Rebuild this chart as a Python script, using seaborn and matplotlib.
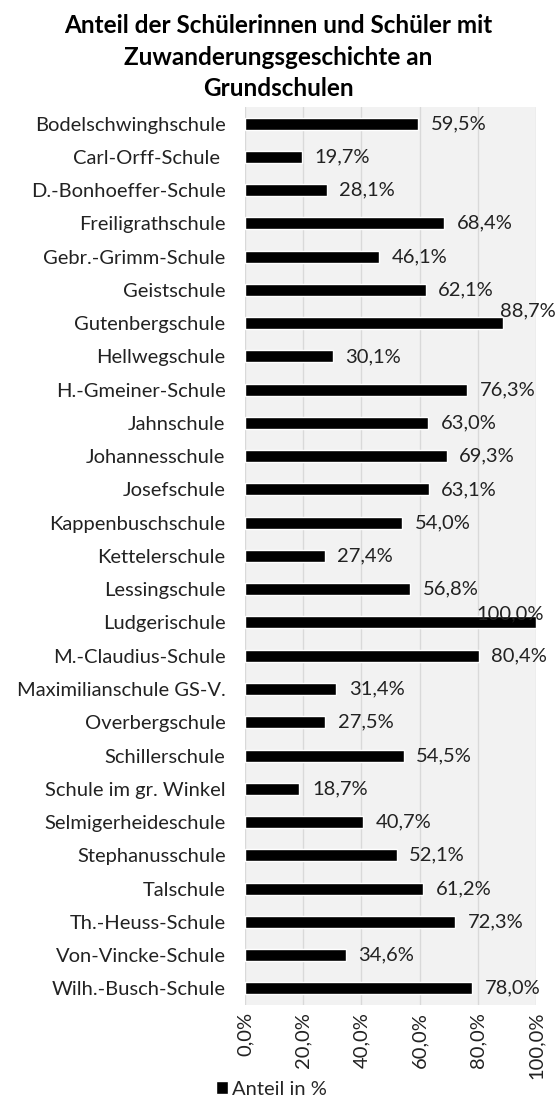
import matplotlib
matplotlib.use("Agg")
import matplotlib.pyplot as plt
import seaborn as sns
import pandas as pd
from matplotlib.ticker import FixedLocator, FuncFormatter
from matplotlib.patches import Patch

schulen = [
    "Bodelschwinghschule", "Carl-Orff-Schule ", "D.-Bonhoeffer-Schule",
    "Freiligrathschule", "Gebr.-Grimm-Schule", "Geistschule",
    "Gutenbergschule", "Hellwegschule", "H.-Gmeiner-Schule", "Jahnschule",
    "Johannesschule", "Josefschule", "Kappenbuschschule", "Kettelerschule",
    "Lessingschule", "Ludgerischule", "M.-Claudius-Schule",
    "Maximilianschule GS-V.", "Overbergschule", "Schillerschule",
    "Schule im gr. Winkel", "Selmigerheideschule", "Stephanusschule",
    "Talschule", "Th.-Heuss-Schule", "Von-Vincke-Schule", "Wilh.-Busch-Schule",
]
anteil = [
    59.5, 19.7, 28.1, 68.4, 46.1, 62.1, 88.7, 30.1, 76.3, 63.0, 69.3, 63.1,
    54.0, 27.4, 56.8, 100.0, 80.4, 31.4, 27.5, 54.5, 18.7, 40.7, 52.1, 61.2,
    72.3, 34.6, 78.0,
]
x_ticks = [0, 20, 40, 60, 80, 100]

titel = "Anteil der Schülerinnen und Schüler mit\nZuwanderungsgeschichte an\nGrundschulen"
legende = "Anteil in %"

df = pd.DataFrame({"Schule": schulen, "Anteil": anteil})

sns.set_theme(style="white")
plt.rcParams["font.family"] = ["Lato", "DejaVu Sans"]
txt = "#222222"
fs = 14.5

fig = plt.figure(figsize=(5.56, 10.97), dpi=100)
ax = fig.add_axes([0.4406, 0.0839, 0.5234, 0.8186])
ax.set_facecolor("#f2f2f2")

sns.barplot(data=df, x="Anteil", y="Schule", color="black", width=0.36,
            saturation=1, ax=ax)

ax.set_xlim(0, 100)
ax.xaxis.set_major_locator(FixedLocator(x_ticks))
ax.xaxis.set_major_formatter(FuncFormatter(lambda v, p: f"{v:.1f}%".replace(".", ",")))
ax.grid(axis="x", color="#d9d9d9", linewidth=1)
ax.set_axisbelow(True)
for s in ax.spines.values():
    s.set_visible(False)
ax.tick_params(axis="x", labelrotation=90, labelsize=fs, length=0, pad=5,
               labelcolor=txt)
ax.tick_params(axis="y", labelsize=fs, length=0, pad=14, labelcolor=txt)
ax.set_xlabel("")
ax.set_ylabel("")

# Beschriftungen; zu lange Werte rutschen wie in Excel nach oben
for i, v in enumerate(anteil):
    lab = f"{v:.1f}%".replace(".", ",")
    if v >= 95:
        ax.annotate(lab, (v, i), xytext=(6, 0), textcoords="offset points",
                    ha="right", va="bottom", fontsize=fs, color=txt)
    elif v >= 85:
        ax.annotate(lab, (v, i), xytext=(-2, 3), textcoords="offset points",
                    ha="left", va="bottom", fontsize=fs, color=txt)
    else:
        ax.annotate(lab, (v, i), xytext=(9, 0), textcoords="offset points",
                    ha="left", va="center", fontsize=fs, color=txt)

fig.suptitle(titel, x=0.5, y=0.987, fontsize=17.5, fontweight="bold",
             color="black", linespacing=1.45, va="top")

fig.legend(handles=[Patch(facecolor="black", label=legende)],
           loc="lower left", bbox_to_anchor=(0.355, -0.017), frameon=False,
           fontsize=fs, handlelength=0.6, handleheight=0.6, handletextpad=0.2)

fig.savefig("out.png", dpi=100)
